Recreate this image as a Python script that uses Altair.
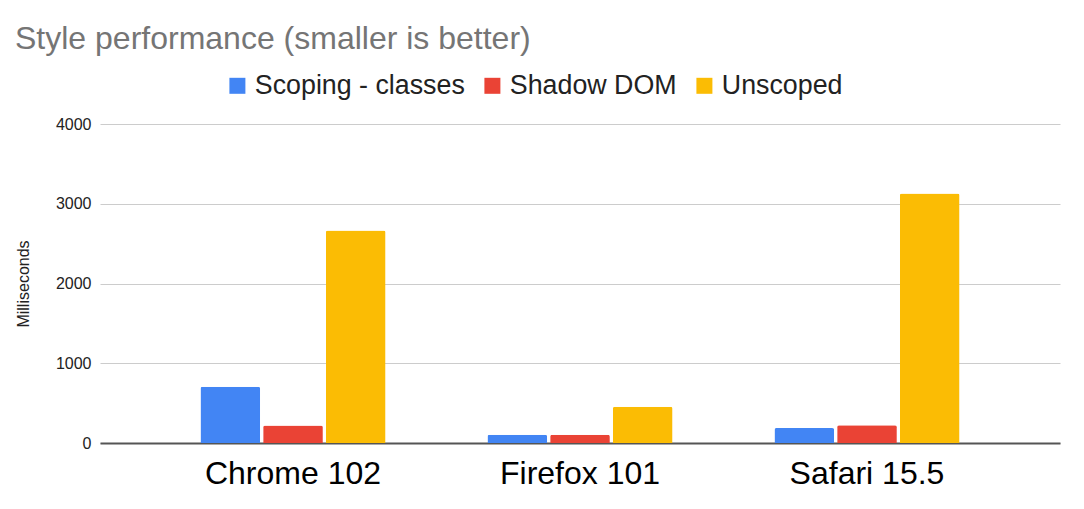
import altair as alt
import pandas as pd

browsers = ["Chrome 102", "Firefox 101", "Safari 15.5"]
series = ["Scoping - classes", "Shadow DOM", "Unscoped"]
colors = ["#4285F4", "#EA4335", "#FBBC04"]
scoping = [706, 105, 188]
shadow = [220, 105, 222]
unscoped = [2666, 455, 3130]
y_ticks = [0, 1000, 2000, 3000, 4000]

rows = []
for i, b in enumerate(browsers):
    for s, vals in zip(series, [scoping, shadow, unscoped]):
        rows.append({"browser": b, "series": s, "ms": vals[i]})
df = pd.DataFrame(rows)

FONT = "Liberation Sans"

chart = alt.Chart(df).mark_bar(
    cornerRadiusTopLeft=2, cornerRadiusTopRight=2
).encode(
    x=alt.X("browser:N", sort=browsers,
            scale=alt.Scale(paddingInner=0.355, paddingOuter=0.35),
            axis=alt.Axis(title=None, labelAngle=0, labelFontSize=32, labelColor="#000000",
                          labelFont=FONT, domainColor="#555555", domainWidth=2,
                          ticks=False, labelPadding=15)),
    xOffset=alt.XOffset("series:N", sort=series,
                        scale=alt.Scale(paddingInner=0.048, paddingOuter=0)),
    y=alt.Y("ms:Q", scale=alt.Scale(domain=[0, 4000]),
            axis=alt.Axis(values=y_ticks, format="d", title="Milliseconds", titleFontSize=16,
                          titleFontWeight="normal", titleFont=FONT, titleColor="#222222",
                          titlePadding=24, grid=True, gridColor="#cccccc", domain=False,
                          ticks=False, labelFontSize=16, labelFont=FONT, labelColor="#222222",
                          labelPadding=9)),
    color=alt.Color("series:N", sort=series,
                    scale=alt.Scale(domain=series, range=colors),
                    legend=alt.Legend(orient="none", legendX=124, legendY=-52,
                                      direction="horizontal", title=None, symbolType="square",
                                      symbolSize=256, labelFontSize=26.8, labelFont=FONT,
                                      labelColor="#222222", labelOffset=4, columnPadding=14,
                                      labelLimit=400, padding=0, symbolStrokeWidth=0)),
).properties(
    width=960, height=319,
    title=alt.TitleParams("Style performance (smaller is better)", anchor="start",
                          frame="group", fontSize=32, color="#757575", fontWeight="normal",
                          font=FONT, dx=-85, dy=-12),
    autosize="none",
    padding={"left": 100, "top": 124, "right": 24, "bottom": 66},
).configure_view(stroke=None)

chart.save("out.html", embed_options={"renderer": "svg", "actions": False})
